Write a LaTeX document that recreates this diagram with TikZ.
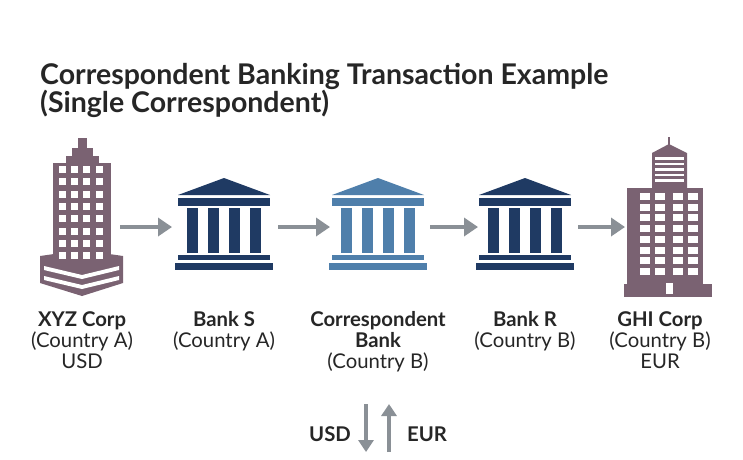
\documentclass[tikz,border=0pt]{standalone}
\usepackage{fontspec}
\setmainfont{Lato}
\usetikzlibrary{arrows.meta}
\definecolor{bldg}{HTML}{7A6272}
\definecolor{navy}{HTML}{1F3A63}
\definecolor{lblue}{HTML}{4F7FAB}
\definecolor{agray}{HTML}{8A9096}
\newcommand\bankicon[2]{%
\begin{scope}[shift={(#1,0)},fill=#2]
\fill (-46,195) -- (0,178) -- (46,195) -- cycle;
\fill (-46,198) rectangle (46,206);
\foreach \c in {-37,-16,5,26} \fill (\c,208) rectangle ++(11,45);
\fill (-46,255) rectangle (46,260);
\fill (-49,263) rectangle (49,270);
\end{scope}}
\begin{document}
\begin{tikzpicture}[x=1pt,y=-1pt,
 arr/.style={agray,line width=4.5pt,-{Triangle[length=14pt,width=18pt]}},
 nm/.style={font=\fontsize{20.3}{22}\selectfont\bfseries,text=black!85,anchor=base},
 sub/.style={font=\fontsize{20.3}{22}\selectfont,text=black!85,anchor=base},
 ttl/.style={anchor=base west,font=\fontsize{28.5}{32}\selectfont\bfseries,text=black!85,inner sep=0}]
\useasboundingbox (0,0) rectangle (743,459);
\fill[white] (0,0) rectangle (743,459);
\node[ttl] (title1) at (40,84) {Correspondent Banking Transaction Example};
\node[ttl] (title2) at (40,112) {(Single Correspondent)};
% XYZ tower
\begin{scope}[bldg]
\fill (78,138) rectangle (87,149);
\fill (72,148) rectangle (93,158);
\fill (66,156) rectangle (99,166);
\fill (53,163) rectangle (111,260);
\fill (40,256) -- (82,250) -- (123,256) -- (123,283) -- (82,296) -- (40,283) -- cycle;
\end{scope}
\foreach \x in {59,71,83,96} \foreach \r in {0,...,7} \fill[white] (\x,{166+\r*12.3}) rectangle ++(7,7);
\fill[white] (44,266) -- (82,275) -- (119,266) -- (119,270) -- (82,279) -- (44,270) -- cycle;
\fill[white] (44,276) -- (82,285) -- (119,276) -- (119,280) -- (82,289) -- (44,280) -- cycle;
% banks
\bankicon{224}{navy}
\bankicon{378}{lblue}
\bankicon{525}{navy}
% GHI tower
\begin{scope}[bldg]
\fill (668,137) rectangle (670,146);
\fill (652,153) -- (669,144) -- (687,153) -- (687,190) -- (652,190) -- cycle;
\fill (627,188) rectangle (703,290);
\fill (624,284) rectangle (712,297);
\end{scope}
\foreach \r in {0,...,4} \fill[white] (655,{157+\r*5.6}) rectangle ++(29,2.6);
\foreach \x in {640,655,673,688} \foreach \r in {0,...,7} \fill[white] (\x,{193+\r*10.7}) rectangle ++(10,7);
\fill[white] (666,283) rectangle (673,294);
% arrows
\coordinate (a1) at (120,227); \coordinate (b1) at (172,227);
\coordinate (a2) at (278,227); \coordinate (b2) at (330,227);
\coordinate (a3) at (430,227); \coordinate (b3) at (478,227);
\coordinate (a4) at (578,227); \coordinate (b4) at (625,227);
\draw[arr] (a1) -- (b1); \draw[arr] (a2) -- (b2); \draw[arr] (a3) -- (b3); \draw[arr] (a4) -- (b4);
% labels
\node[nm] (n1) at (82,326) {XYZ Corp};
\node[sub] (s1) at (82,347) {(Country A)};
\node[sub] (c1) at (82,368) {USD};
\node[nm] (n2) at (224,326) {Bank S};
\node[sub] (s2) at (224,347) {(Country A)};
\node[nm] (n3) at (378,326) {Correspondent};
\node[nm] (n3b) at (378,347) {Bank};
\node[sub] (s3) at (378,368) {(Country B)};
\node[nm] (n4) at (525,326) {Bank R};
\node[sub] (s4) at (525,347) {(Country B)};
\node[nm] (n5) at (660,326) {GHI Corp};
\node[sub] (s5) at (660,347) {(Country B)};
\node[sub] (c5) at (660,368) {EUR};
% bottom
\node[nm] (usd) at (330,441) {USD};
\node[nm] (eur) at (427,441) {EUR};
\coordinate (d1) at (366,404); \coordinate (d2) at (366,452);
\coordinate (u1) at (389,452); \coordinate (u2) at (389,404);
\draw[agray,line width=3.5pt,-{Triangle[length=12pt,width=15pt]}] (d1) -- (d2);
\draw[agray,line width=3.5pt,-{Triangle[length=12pt,width=15pt]}] (u1) -- (u2);
\end{tikzpicture}
\end{document}
